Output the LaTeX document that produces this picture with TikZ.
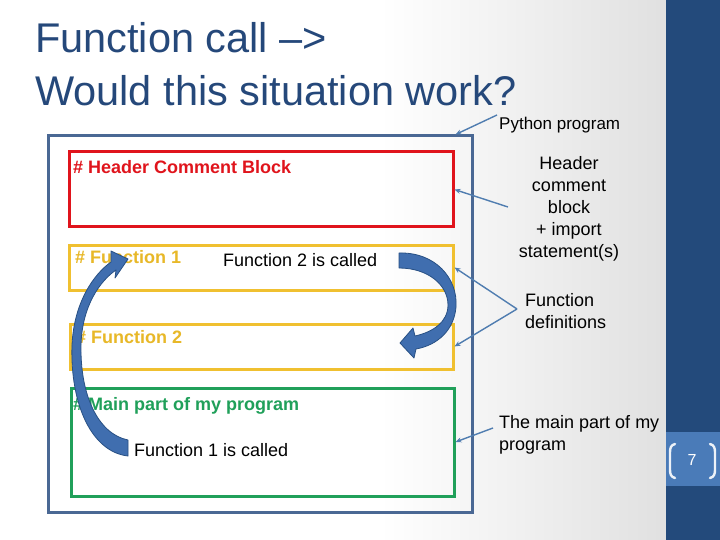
\documentclass[tikz,border=0pt]{standalone}
\usepackage{fontspec}
\setmainfont{Liberation Sans}
\usetikzlibrary{arrows.meta,calc}
\definecolor{titleblue}{RGB}{37,72,122}
\definecolor{bandblue}{RGB}{35,74,123}
\definecolor{bandlight}{RGB}{74,123,184}
\definecolor{progblue}{RGB}{74,104,148}
\definecolor{hdrred}{RGB}{224,20,28}
\definecolor{fyellow}{RGB}{240,192,48}
\definecolor{fyeltext}{RGB}{232,184,40}
\definecolor{mgreen}{RGB}{32,160,90}
\definecolor{ptrblue}{RGB}{80,125,176}
\definecolor{arrfill}{RGB}{64,110,175}
\definecolor{arrline}{RGB}{40,80,132}
\tikzset{
  box/.style={draw=#1, line width=3pt, inner sep=0pt},
  lbl/.style={anchor=base west, inner sep=0pt, font=\fontsize{18}{22}\selectfont},
  blbl/.style={anchor=base west, inner sep=0pt, font=\fontsize{18}{22}\selectfont\bfseries, text=#1},
  pointer/.style={draw=ptrblue, line width=1.4pt, -{Stealth[length=6pt,width=5pt]}},
  bigarrow/.style={fill=arrfill, draw=arrline, line width=0.8pt, line join=round},
  title/.style={anchor=base west, inner sep=0pt, font=\fontsize{41.5}{48}\selectfont, text=titleblue},
  bracket/.style={draw=white!90!bandlight, line width=2.4pt, line cap=round},
}
\begin{document}
\begin{tikzpicture}[x=1pt,y=-1pt]
\useasboundingbox (0,0) rectangle (720,540);
% background
\fill[white] (0,0) rectangle (666,540);
\shade[left color=white, right color=white!88!black] (380,0) rectangle (666,540);
\fill[bandblue] (666,0) rectangle (720,540);
\fill[bandlight] (666,432) rectangle (720,486);
\draw[bracket] (675,444) .. controls (671,445) and (670,448) .. (670,452) -- (670,470) .. controls (670,474) and (671,477) .. (675,478);
\draw[bracket] (710,444) .. controls (714,445) and (715,448) .. (715,452) -- (715,470) .. controls (715,474) and (714,477) .. (710,478);
\node[text=white, font=\fontsize{16}{18}\selectfont, inner sep=0pt] (pg) at (692,460) {7};
% title
\node[title] (t1) at (35,53) {Function call \textendash>};
\node[title] (t2) at (35,106) {Would this situation work?};
% boxes
\node[box=progblue, minimum width=424pt, minimum height=376pt] (prog) at (260,324) {};
\node[box=hdrred, minimum width=384pt, minimum height=75pt] (hdr) at (261,189.5) {};
\node[box=fyellow, minimum width=384pt, minimum height=45pt] (f1) at (261,267.5) {};
\node[box=fyellow, minimum width=383pt, minimum height=45pt] (f2) at (261.5,346.5) {};
\node[box=mgreen, minimum width=383pt, minimum height=108pt] (main) at (262.5,442) {};
% texts in boxes
\node[blbl=hdrred] (th) at (73,174) {\# Header Comment Block};
\node[blbl=fyeltext] (tf1) at (75,263) {\# Function 1};
\node[lbl] (c2) at (223,266) {Function 2 is called};
\node[blbl=fyeltext] (tf2) at (76,343) {\# Function 2};
\node[blbl=mgreen] (tm) at (73,410) {\# Main part of my program};
\node[lbl] (c1) at (134,456) {Function 1 is called};
% right labels
\node[anchor=base west, inner sep=0pt, font=\fontsize{17}{20}\selectfont] (py) at (499,130) {Python program};
\node[anchor=base, inner sep=0pt, font=\fontsize{18}{22}\selectfont] (hc) at (569,170)
  {\begin{tabular}[t]{@{}c@{}}Header\\comment\\block\\+ import\\statement(s)\end{tabular}};
\node[anchor=base west, inner sep=0pt, font=\fontsize{18}{22}\selectfont] (fd) at (525,306)
  {\begin{tabular}[t]{@{}l@{}}Function\\definitions\end{tabular}};
\node[anchor=base west, inner sep=0pt, font=\fontsize{18}{22}\selectfont] (mp) at (499,428)
  {\begin{tabular}[t]{@{}l@{}}The main part of my\\program\end{tabular}};
% pointer start points
\coordinate (sp) at (497,115);
\coordinate (sh) at (508,207);
\coordinate (sf) at (517,309);
\coordinate (sm) at (493,428);
\draw[pointer] (sp) -- ([xshift=-18pt]prog.north east);
\draw[pointer] (sh) -- (hdr.east);
\draw[pointer] (sf) -- (f1.east);
\draw[pointer] (sf) -- (f2.east);
\draw[pointer] (sm) -- (main.east);
% curved block arrows
\path[bigarrow] (128,440) -- (128,456) .. controls (92,452) and (70,405) .. (72,345)
  .. controls (74,302) and (94,274) .. (111,262) -- (111,251) -- (128,259) -- (115,278) -- (116,270)
  .. controls (100,281) and (82,306) .. (81,345) .. controls (80,395) and (98,434) .. (128,440) -- cycle;
\path[bigarrow] (399,253) .. controls (435,252) and (458,278) .. (456,307)
  .. controls (454,330) and (438,345) .. (416,349) -- (414,358) -- (400,343) -- (413,328) -- (415,336)
  .. controls (433,332) and (448,322) .. (448,305) .. controls (448,285) and (428,268) .. (399,268) -- cycle;
\end{tikzpicture}
\end{document}
